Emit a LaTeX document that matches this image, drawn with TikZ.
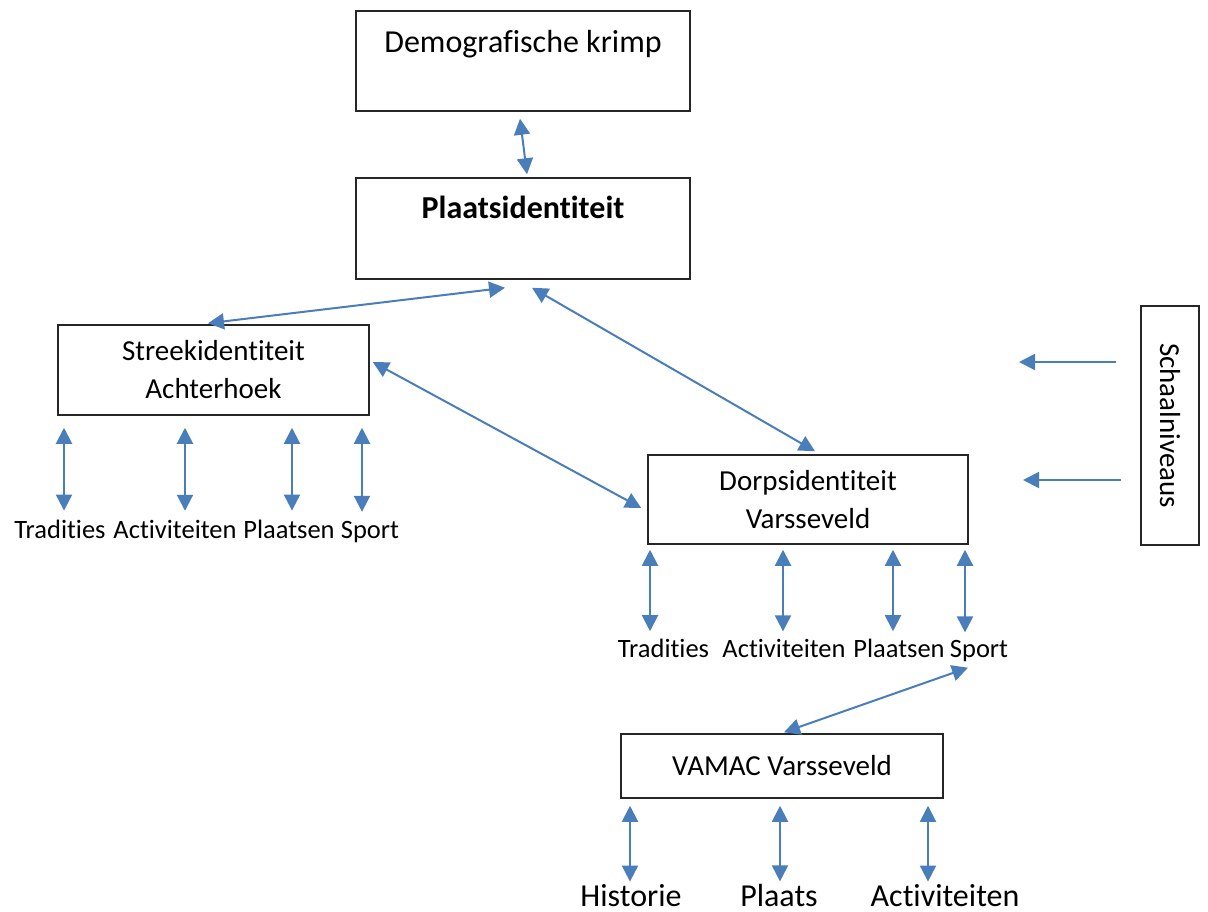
\documentclass[tikz,border=0pt]{standalone}
\usepackage{fontspec}
\setmainfont{Carlito}[Ligatures=NoCommon]
\usetikzlibrary{arrows.meta,positioning,calc}
\definecolor{linkblue}{RGB}{74,126,187}

\begin{document}
\begin{tikzpicture}[x=0.5pt,y=-0.5pt,node distance=83.75pt,on grid,
		box/.style={draw=black!85,line width=0.75pt,align=center,inner sep=0pt,font=\fontsize{14.5}{19}\selectfont},
		link/.style={draw=linkblue,line width=1pt,{Triangle[width=8pt,length=8pt]}-{Triangle[width=8pt,length=8pt]}},
		point/.style={draw=linkblue,line width=1pt,-{Triangle[width=8pt,length=8pt]}},
		tag/.style={inner sep=0pt,anchor=base,font=\fontsize{13.25}{16}\selectfont},
		bigtag/.style={inner sep=0pt,anchor=base,font=\fontsize{16}{19}\selectfont}]
		\useasboundingbox (0,0) rectangle (1208,911);
		\node[box,minimum width=167pt,minimum height=50pt,text height=11pt,text depth=20pt,font=\fontsize{16}{19}\selectfont] (demo) at (523,61) {Demografische krimp};
		\node[box,minimum width=167pt,minimum height=50.5pt,text height=11pt,text depth=21.5pt,font=\fontsize{16}{19}\selectfont\bfseries] (plaats) [below=of demo] {Plaatsidentiteit};
		\node[box,minimum width=155.5pt,minimum height=45pt] (streek) at (213.5,370) {Streekidentiteit\\Achterhoek};
		\node[box,minimum width=160pt,minimum height=44.5pt] (dorp) at (808,499.5) {Dorpsidentiteit\\Varsseveld};
		\node[box,minimum width=161pt,minimum height=32pt] (vamac) at (782,766) {VAMAC Varsseveld};
		\node[box,rotate=-90,minimum width=119.5pt,minimum height=29pt] (schaal) at (1170,425.5) {Schaalniveaus};

		% labels onder de vakken
		\node[tag] (st_1) at (60,538) {Tradities};
		\node[tag] (st_2) at (175,538) {Activiteiten};
		\node[tag] (st_3) at (289,538) {Plaatsen};
		\node[tag] (st_4) at (370,538) {Sport};
		\node[tag] (dp_1) at (663.5,657) {Tradities};
		\node[tag] (dp_2) at (784,657) {Activiteiten};
		\node[tag] (dp_3) at (899,657) {Plaatsen};
		\node[tag] (dp_4) at (979,657) {Sport};
		\node[bigtag] (vm_1) at (631,906) {Historie};
		\node[bigtag] (vm_2) at (779,906) {Plaats};
		\node[bigtag] (vm_3) at (945,906) {Activiteiten};

		\coordinate (sc_1) at (1116,362);
		\coordinate (lv_1) at (1019,362);
		\coordinate (sc_2) at (1121,480);
		\coordinate (lv_2) at (1023,480);

		\draw[link] ($(demo.south)+(-3,7)$) -- ($(plaats.north)+(4,-3)$);
		\draw[link] ($(plaats.south)+(-18,8)$) -- ($(streek.north)+(-5.5,-1)$);
		\draw[link] ($(plaats.south)+(9,8)$) -- ($(dorp.north)+(7,-3)$);
		\draw[link] ($(streek.east)+(3,-8)$) -- ($(dorp.west)+(-6,8.5)$);
		\draw[link] ($(dp_4.south)+(-11,6)$) -- ($(vamac.north)+(2,-1)$);

		\foreach \n/\dx in {1/4,2/10,3/3,4/-8}
			\draw[link,shorten <=6pt,shorten >=4.3pt] ($(st_\n.north |- streek.south)+(\dx,0)$) -- ($(st_\n.north)+(\dx,0)$);
		\foreach \n/\dx in {1/-13.5,2/-1,3/-6,4/-14}
			\draw[link,shorten <=2.5pt,shorten >=3.5pt] ($(dp_\n.north |- dorp.south)+(\dx,0)$) -- ($(dp_\n.north)+(\dx,0)$);
		\foreach \n/\dx in {1/-1,2/1,3/-17}
			\draw[link,shorten <=3.5pt,shorten >=1pt] ($(vm_\n.north |- vamac.south)+(\dx,0)$) -- ($(vm_\n.north)+(\dx,0)$);

		\draw[point] (sc_1) -- (lv_1);
		\draw[point] (sc_2) -- (lv_2);
	\end{tikzpicture}
\end{document}
